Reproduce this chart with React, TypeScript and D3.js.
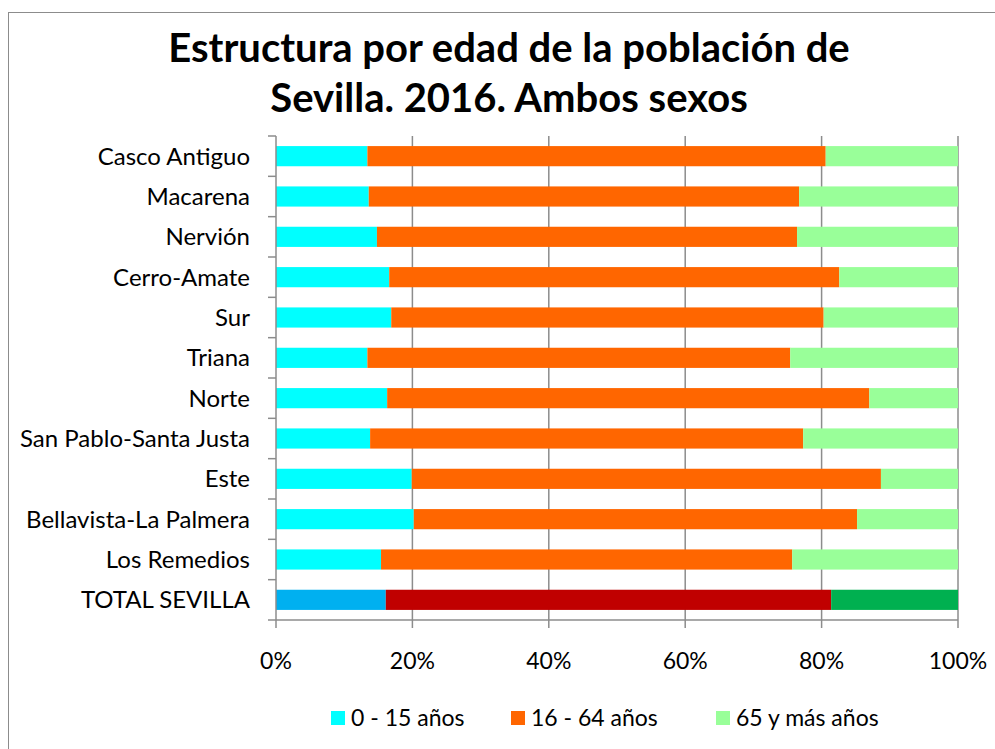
import * as d3 from "d3"
import { useEffect, useRef } from "react"

const categories = [
  "Casco Antiguo",
  "Macarena",
  "Nervión",
  "Cerro-Amate",
  "Sur",
  "Triana",
  "Norte",
  "San Pablo-Santa Justa",
  "Este",
  "Bellavista-La Palmera",
  "Los Remedios",
  "TOTAL SEVILLA",
]

// percentage of each district population
const young = [13.4, 13.6, 14.8, 16.6, 16.9, 13.4, 16.3, 13.8, 19.9, 20.2, 15.4, 16.1]
const adults = [67.2, 63.1, 61.6, 66.0, 63.4, 62.0, 70.7, 63.5, 68.8, 65.0, 60.3, 65.3]
const elderly = [19.4, 23.3, 23.6, 17.4, 19.7, 24.6, 13.0, 22.7, 11.3, 14.8, 24.3, 18.6]

const seriesNames = ["0 - 15 años", "16 - 64 años", "65 y más años"]
const seriesColors = ["#00FFFF", "#FF6600", "#99FF99"]
const totalColors = ["#00B0F0", "#C00000", "#00B050"]
const xTicks = [0, 20, 40, 60, 80, 100]

const FONT = "Lato, 'Open Sans', sans-serif"

const App = () => {
  const svgRef = useRef<SVGSVGElement | null>(null)

  useEffect(() => {
    if (!svgRef.current) return
    const svg = d3.select(svgRef.current)
    svg.selectAll("*").remove()

    const margin = { top: 136, left: 276, right: 37, bottom: 129 }
    const width = 995 - margin.left - margin.right
    const height = 749 - margin.top - margin.bottom

    // frame
    svg
      .append("rect")
      .attr("x", 8.5)
      .attr("y", 12.5)
      .attr("width", 1000)
      .attr("height", 760)
      .attr("fill", "white")
      .attr("stroke", "#8c8c8c")
      .attr("stroke-width", 1)

    // title
    const title = svg
      .append("text")
      .attr("text-anchor", "middle")
      .style("font", `bold 40px ${FONT}`)
      .attr("fill", "#000")
    title.append("tspan").attr("x", 509).attr("y", 62).text("Estructura por edad de la población de")
    title.append("tspan").attr("x", 509).attr("y", 112).text("Sevilla. 2016. Ambos sexos")

    const chart = svg.append("g").attr("transform", `translate(${margin.left},${margin.top})`)

    const x = d3.scaleLinear().domain([0, 100]).range([0, width])
    const y = d3.scaleBand().domain(categories).range([0, height]).paddingInner(0.5).paddingOuter(0.25)

    // gridlines
    chart
      .selectAll(".grid")
      .data(xTicks.slice(1))
      .enter()
      .append("line")
      .attr("x1", (d) => x(d))
      .attr("x2", (d) => x(d))
      .attr("y1", 0)
      .attr("y2", height)
      .attr("stroke", "#8c8c8c")
      .attr("stroke-width", 1.5)

    // stacked bars (100% stacked)
    const rows = categories.map((c, i) => {
      const vals = [young[i], adults[i], elderly[i]]
      const sum = d3.sum(vals)
      let acc = 0
      return vals.map((v, k) => {
        const seg = {
          cat: c,
          k,
          start: (acc / sum) * 100,
          end: ((acc + v) / sum) * 100,
          total: i === categories.length - 1,
        }
        acc += v
        return seg
      })
    })

    chart
      .selectAll(".bar")
      .data(rows.flat())
      .enter()
      .append("rect")
      .attr("x", (d) => x(d.start))
      .attr("width", (d) => x(d.end) - x(d.start))
      .attr("y", (d) => y(d.cat)!)
      .attr("height", y.bandwidth())
      .attr("fill", (d) => (d.total ? totalColors[d.k] : seriesColors[d.k]))

    // y axis
    const yAxis = chart.append("g")
    yAxis
      .append("line")
      .attr("x1", 0)
      .attr("x2", 0)
      .attr("y1", 0)
      .attr("y2", height)
      .attr("stroke", "#8c8c8c")
      .attr("stroke-width", 1.5)
    const step = y.step()
    yAxis
      .selectAll(".ytick")
      .data(d3.range(categories.length + 1))
      .enter()
      .append("line")
      .attr("x1", -8)
      .attr("x2", 0)
      .attr("y1", (i) => i * step)
      .attr("y2", (i) => i * step)
      .attr("stroke", "#8c8c8c")
      .attr("stroke-width", 1.5)
    yAxis
      .selectAll(".ylabel")
      .data(categories)
      .enter()
      .append("text")
      .attr("x", -26)
      .attr("y", (d) => y(d)! + y.bandwidth() / 2)
      .attr("dy", "0.35em")
      .attr("text-anchor", "end")
      .style("font", `24px ${FONT}`)
      .attr("fill", "#000")
      .text((d) => d)

    // x axis
    const xAxis = chart.append("g").attr("transform", `translate(0,${height})`)
    xAxis
      .append("line")
      .attr("x1", 0)
      .attr("x2", width)
      .attr("stroke", "#8c8c8c")
      .attr("stroke-width", 1.5)
    xAxis
      .selectAll(".xtick")
      .data(xTicks)
      .enter()
      .append("line")
      .attr("x1", (d) => x(d))
      .attr("x2", (d) => x(d))
      .attr("y1", 0)
      .attr("y2", 8)
      .attr("stroke", "#8c8c8c")
      .attr("stroke-width", 1.5)
    xAxis
      .selectAll(".xlabel")
      .data(xTicks)
      .enter()
      .append("text")
      .attr("x", (d) => x(d))
      .attr("y", 49)
      .attr("text-anchor", "middle")
      .style("font", `23px ${FONT}`)
      .attr("fill", "#000")
      .text((d) => `${d}%`)

    // legend
    const legendX = [331, 511, 716]
    const legend = svg
      .selectAll(".legend")
      .data(seriesNames)
      .enter()
      .append("g")
      .attr("transform", (_d, i) => `translate(${legendX[i]},718)`)
    legend
      .append("rect")
      .attr("x", 0)
      .attr("y", -7)
      .attr("width", 14)
      .attr("height", 14)
      .attr("fill", (_d, i) => seriesColors[i])
    legend
      .append("text")
      .attr("x", 20)
      .attr("dy", "0.35em")
      .style("font", `23px ${FONT}`)
      .attr("fill", "#000")
      .text((d) => d)
  }, [])

  return (
    <svg
      ref={svgRef}
      width={995}
      height={749}
      style={{ position: "absolute", left: 0, top: 0, display: "block" }}
    />
  )
}

export default App
